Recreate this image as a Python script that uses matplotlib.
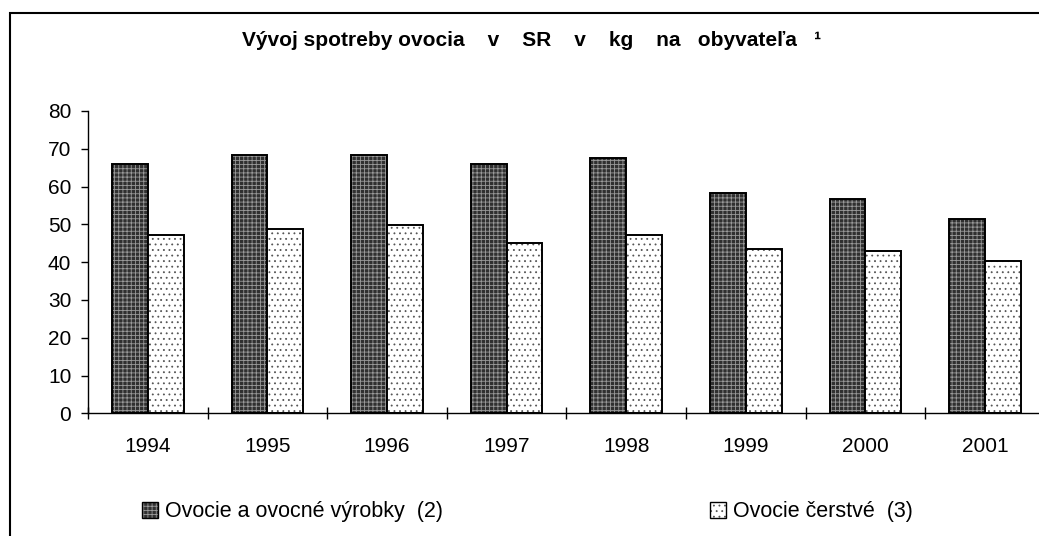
import numpy as np
import matplotlib
matplotlib.use("Agg")
import matplotlib.pyplot as plt
from matplotlib.patches import Patch, Rectangle

plt.rcParams['font.family'] = ['Liberation Sans', 'DejaVu Sans']
plt.rcParams['hatch.linewidth'] = 0.6

years = ['1994', '1995', '1996', '1997', '1998', '1999', '2000', '2001']
ovocie_vyrobky = [65.9, 68.4, 68.4, 65.9, 67.5, 58.4, 56.8, 51.5]
ovocie_cerstve = [47.2, 48.8, 49.9, 45.0, 47.2, 43.4, 43.0, 40.3]
label_vyrobky = 'Ovocie a ovocné výrobky  (2)'
label_cerstve = 'Ovocie čerstvé  (3)'
title = 'Vývoj spotreby ovocia    v    SR    v    kg    na   obyvateľa   ¹'

W, H = 1039, 536
fig = plt.figure(figsize=(W / 100, H / 100), dpi=100)
ax = fig.add_axes([88 / W, (H - 413.3) / H, 8 * 119.6 / W, 302.3 / H])

x = np.arange(len(years))
bw = 0.3

# dark bars: hatch first, outline on top
dark_style = dict(facecolor='#303030', edgecolor='#9a9a9a', hatch='++++', linewidth=0)
light_style = dict(facecolor='white', edgecolor='#555555', hatch='...', linewidth=0)
ax.bar(x - bw / 2, ovocie_vyrobky, bw, **dark_style)
ax.bar(x - bw / 2, ovocie_vyrobky, bw, fill=False, edgecolor='black', linewidth=1.4)
ax.bar(x + bw / 2, ovocie_cerstve, bw, **light_style)
ax.bar(x + bw / 2, ovocie_cerstve, bw, fill=False, edgecolor='black', linewidth=1.4)

ax.set_xlim(-0.5, len(years) - 0.5)
ax.set_ylim(0, 80)
ax.set_yticks(range(0, 81, 10))
ax.set_xticks(x)
ax.set_xticklabels(years)
ax.set_xticks(np.arange(len(years) + 1) - 0.5, minor=True)
ax.tick_params(axis='x', which='major', length=0, pad=17, labelsize=15)
ax.tick_params(axis='x', which='minor', direction='inout', length=9, width=1)
ax.tick_params(axis='y', direction='out', length=5, width=1, pad=7, labelsize=15)
for s in ['top', 'right']:
    ax.spines[s].set_visible(False)
ax.spines['left'].set_linewidth(1)
ax.spines['bottom'].set_linewidth(1)

fig.text(242 / W, 1 - 41 / H, title, ha='left', va='center',
         fontsize=15, fontweight='bold')

# chart frame (cut off at right and bottom)
fig.add_artist(Rectangle((10 / W, -0.2), 1.5, 1 - 13 / H + 0.2,
                         transform=fig.transFigure, fill=False,
                         edgecolor='black', linewidth=1.5))

h1 = (Patch(**dark_style), Patch(fill=False, edgecolor='black', linewidth=1))
h2 = (Patch(**light_style), Patch(fill=False, edgecolor='black', linewidth=1))
for h, lab, xpos in [(h1, label_vyrobky, 142), (h2, label_cerstve, 710)]:
    fig.legend([h], [lab], loc='center left', bbox_to_anchor=(xpos / W, 1 - 512 / H),
               frameon=False, fontsize=15.5, handlelength=0.75, handleheight=0.75,
               handletextpad=0.3, borderpad=0, borderaxespad=0)

fig.savefig('out.png', dpi=100)
